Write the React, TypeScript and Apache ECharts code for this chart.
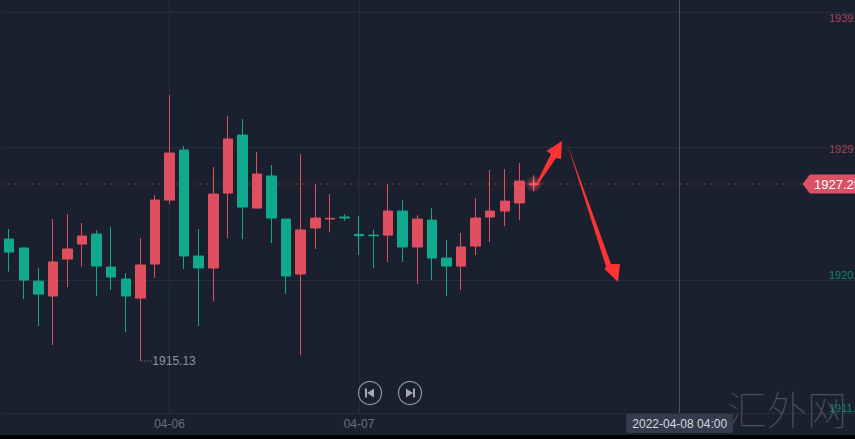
import React, { useEffect, useRef } from "react";
import * as echarts from "echarts";

const BG = "#1a202d";
const RED = "#e04f5f";
const GREEN = "#0fa98d";
const GRID = "#262c38";
const FONT = "'Liberation Sans', Arial, sans-serif";

// [open, close, low, high]
const candles: number[][] = [
  [1923.48, 1922.59, 1921.25, 1924.17],
  [1922.87, 1920.67, 1919.37, 1922.91],
  [1920.6, 1919.71, 1917.52, 1921.5],
  [1919.58, 1921.91, 1916.22, 1924.85],
  [1922.11, 1922.8, 1920.19, 1925.19],
  [1923.14, 1923.69, 1921.59, 1924.58],
  [1923.82, 1921.63, 1919.58, 1924.1],
  [1921.56, 1920.88, 1919.99, 1924.3],
  [1920.74, 1919.58, 1917.11, 1921.15],
  [1919.44, 1921.7, 1915.13, 1923.55],
  [1921.77, 1926.15, 1920.81, 1926.49],
  [1926.15, 1929.37, 1925.88, 1933.34],
  [1929.58, 1922.32, 1921.42, 1929.85],
  [1922.32, 1921.5, 1917.52, 1924.17],
  [1921.5, 1926.56, 1919.23, 1928.41],
  [1926.63, 1930.33, 1923.55, 1931.91],
  [1930.6, 1925.67, 1923.48, 1931.7],
  [1925.6, 1927.93, 1925.6, 1929.44],
  [1927.8, 1924.92, 1923.21, 1928.55],
  [1924.85, 1920.95, 1919.71, 1924.85],
  [1921.09, 1924.1, 1915.53, 1929.3],
  [1924.24, 1924.92, 1922.8, 1927.25],
  [1924.85, 1924.9, 1923.96, 1926.56],
  [1924.99, 1924.92, 1924.71, 1925.19],
  [1923.8, 1923.71, 1922.39, 1925.05],
  [1923.75, 1923.71, 1921.5, 1924.1],
  [1923.75, 1925.4, 1921.91, 1927.25],
  [1925.4, 1922.94, 1921.91, 1926.15],
  [1922.94, 1924.85, 1920.4, 1925.12],
  [1924.78, 1922.18, 1920.67, 1925.6],
  [1922.18, 1921.63, 1919.58, 1923.41],
  [1921.63, 1922.94, 1919.99, 1923.89],
  [1923.0, 1924.92, 1922.39, 1926.29],
  [1924.99, 1925.4, 1923.27, 1928.21],
  [1925.4, 1926.08, 1924.37, 1928.27],
  [1925.95, 1927.45, 1924.78, 1928.68],
  [1927.21, 1927.25, 1926.77, 1927.86],
];

const BAR_SLOTS = 59;
const dateLabels: Record<number, string> = { 11: "04-06", 24: "04-07" };
const categories = Array.from({ length: BAR_SLOTS }, (_, i) => dateLabels[i] ?? `bar${i}`);

const yTicks = [1911.57, 1920.67, 1929.75, 1939.0];
const yLabelStyle: Record<string, string> = {
  "1911.57": "g",
  "1920.67": "g",
  "1929.75": "r",
  "1939.00": "t",
};

const LAST_INDEX = 36;
const LAST_PRICE = 1927.25;
const LOW_INDEX = 9;
const LOW_PRICE = 1915.13;
const CROSS_INDEX = 46;
const CROSS_LABEL = "2022-04-08 04:00";
const STAR = "path://M0,-10 L1,-1 L10,0 L1,1 L0,10 L-1,1 L-10,0 L-1,-1 Z";

export default function App() {
  const ref = useRef<HTMLDivElement>(null);
  useEffect(() => {
    document.body.style.margin = "0";
    document.body.style.background = "#000";
    const chart = echarts.init(ref.current!, null, { renderer: "svg" });
    chart.setOption({
      animation: false,
      backgroundColor: BG,
      textStyle: { fontFamily: FONT },
      grid: { left: 1.9, right: -6.9, top: 0, bottom: 22, outerBoundsMode: "none", containLabel: false },
      xAxis: {
        type: "category",
        data: categories,
        boundaryGap: true,
        axisLine: { show: false },
        axisTick: { show: false, alignWithLabel: true },
        axisLabel: {
          color: "#687080",
          fontSize: 12,
          margin: 5,
          interval: (i: number) => dateLabels[i] !== undefined,
        },
        splitLine: {
          show: true,
          alignWithLabel: true,
          interval: (i: number) => dateLabels[i] !== undefined,
          lineStyle: { color: GRID, width: 1 },
        },
        axisPointer: {
          show: true,
          status: "show",
          value: CROSS_INDEX,
          snap: false,
          type: "line",
          lineStyle: { color: "#4b505c", width: 1, type: "solid" },
          label: {
            show: true,
            formatter: () => CROSS_LABEL,
            backgroundColor: "#323c4c",
            color: "#d5d8dd",
            fontSize: 12,
            fontFamily: FONT,
            padding: [4, 6, 3, 6],
            margin: 1,
            borderRadius: 0,
          },
        },
      },
      yAxis: {
        type: "value",
        position: "right",
        min: 1911.57,
        max: 1939.85,
        scale: true,
        axisLine: { show: false },
        axisTick: { show: false, customValues: yTicks },
        axisLabel: {
          inside: true,
          align: "left",
          margin: 33,
          fontSize: 11,
          customValues: yTicks,
          showMinLabel: true,
          showMaxLabel: true,
          formatter: (v: number) => {
            const key = v.toFixed(2);
            return `{${yLabelStyle[key]}|${key}}`;
          },
          rich: {
            r: { color: "#a8435a", fontSize: 11, padding: [2, 0, 0, 0] },
            t: { color: "#a8435a", fontSize: 11, padding: [12, 0, 0, 0] },
            g: { color: "#10806f", fontSize: 11, padding: [0, 0, 10, 0] },
          },
        },
        splitLine: { show: true, lineStyle: { color: GRID, width: 1 } },
      },
      series: [
        {
          type: "candlestick",
          z: 3,
          data: candles,
          barWidth: 10,
          itemStyle: { color: RED, color0: GREEN, borderColor: RED, borderColor0: GREEN, borderWidth: 1 },
          markLine: {
            silent: true,
            z: 1,
            symbol: "none",
            label: { show: false },
            lineStyle: { color: "rgba(224,79,95,0.36)", type: [2, 4], width: 1.5 },
            data: [{ yAxis: LAST_PRICE }],
          },
          markPoint: {
            silent: true,
            symbol: "circle",
            symbolSize: 0,
            data: [{ coord: [LOW_INDEX, LOW_PRICE], value: LOW_PRICE }],
            label: {
              show: true,
              position: "right",
              distance: 12,
              color: "#8b93a0",
              fontSize: 12,
              fontFamily: FONT,
              formatter: (p: any) => p.value.toFixed(2),
            },
          },
        },
        {
          type: "scatter",
          z: 4,
          silent: true,
          symbolSize: 16,
          itemStyle: {
            color: {
              type: "radial",
              x: 0.5,
              y: 0.5,
              r: 0.5,
              colorStops: [
                { offset: 0, color: "rgba(240,80,100,0.85)" },
                { offset: 1, color: "rgba(224,79,95,0.12)" },
              ],
            },
          },
          data: [[LAST_INDEX, LAST_PRICE]],
        },
        {
          type: "scatter",
          z: 5,
          silent: true,
          symbol: STAR,
          symbolSize: 16,
          itemStyle: { color: "#ff6f80" },
          data: [[LAST_INDEX, LAST_PRICE]],
        },
      ],
    });

    const [, lastY] = chart.convertToPixel({ gridIndex: 0 }, [0, LAST_PRICE]) as number[];
    const [lowX, lowY] = chart.convertToPixel({ gridIndex: 0 }, [LOW_INDEX, LOW_PRICE]) as number[];

    const button = (cx: number, cy: number, dir: number) => ({
      type: "group",
      x: cx,
      y: cy,
      children: [
        { type: "circle", shape: { cx: 0, cy: 0, r: 11.5 }, style: { fill: "transparent", stroke: "#8d929c", lineWidth: 1.2 } },
        { type: "rect", shape: { x: dir < 0 ? -5 : 3, y: -4.5, width: 2, height: 9 }, style: { fill: "#a4a8b0" } },
        {
          type: "polygon",
          shape: { points: dir < 0 ? [[4, -4.5], [4, 4.5], [-3, 0]] : [[-4, -4.5], [-4, 4.5], [3, 0]] },
          style: { fill: "#a4a8b0" },
        },
      ],
    });

    chart.setOption({
      graphic: [
        {
          type: "text",
          x: 727,
          y: 408,
          z: 1,
          silent: true,
          style: {
            text: "汇外网",
            fontSize: 40,
            fontWeight: 100,
            fontFamily: "'Noto Sans CJK SC'",
            fill: "rgba(125,130,135,0.5)",
            verticalAlign: "middle",
          },
        },
        {
          type: "line",
          z: 10,
          shape: { x1: lowX + 1, y1: lowY, x2: lowX + 11, y2: lowY },
          style: { stroke: "#8b93a0", lineWidth: 1, lineDash: [1, 2] },
        },
        button(370, 393, -1),
        button(410, 393, 1),
        {
          type: "polygon",
          z: 10,
          shape: { points: [[536.5, 183], [551, 154], [546.5, 151], [562, 141], [561, 159], [556, 158], [538, 184.5]] },
          style: { fill: "#ff3333" },
        },
        {
          type: "polygon",
          z: 10,
          shape: { points: [[567, 143], [611, 264], [620, 264], [618, 282], [604.5, 269], [606, 266.5]] },
          style: { fill: "#ff3333" },
        },
        {
          type: "polygon",
          z: 10,
          shape: { points: [[803, lastY], [810, lastY - 9], [858, lastY - 9], [858, lastY + 9], [810, lastY + 9]] },
          style: { fill: "#dc5064", stroke: "#dc5064", lineWidth: 1, lineJoin: "round" },
        },
        {
          type: "text",
          z: 11,
          x: 814,
          y: lastY,
          style: {
            text: LAST_PRICE.toFixed(2),
            fontSize: 13,
            fontFamily: FONT,
            fill: "#ffffff",
            verticalAlign: "middle",
          },
        },
      ],
    });
    return () => chart.dispose();
  }, []);
  return (
    <div style={{ width: 855, height: 439, background: "#000", overflow: "hidden" }}>
      <div ref={ref} style={{ width: 855, height: 435 }} />
    </div>
  );
}
